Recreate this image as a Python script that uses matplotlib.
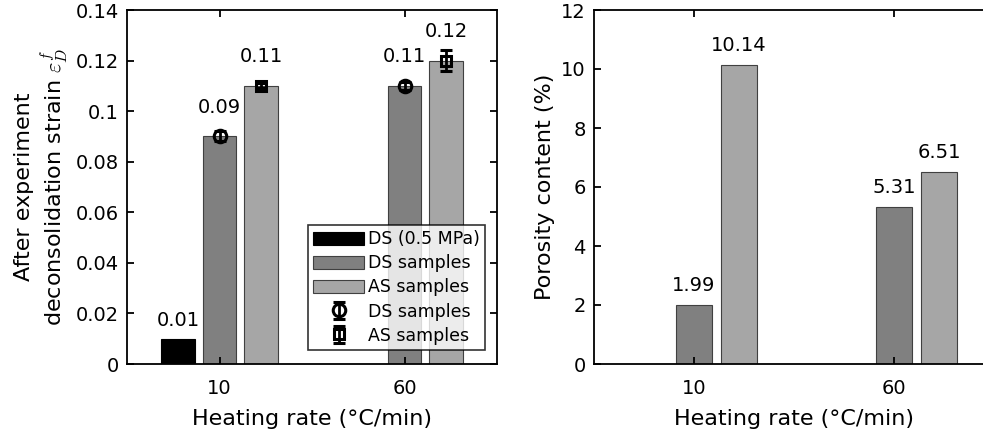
#!/usr/bin/env python3
# -*- coding: utf-8 -*-
"""
Deconsolidation strain and porosity content vs heating rate.
"""
import numpy as np
import matplotlib
matplotlib.use('Agg')
import matplotlib.pyplot as plt

heating_rates = ['10', '60']
# strain after experiment
strain_ds_low = [0.01, np.nan]   # DS (0.5 MPa), only tested at 10 C/min
strain_ds = [0.09, 0.11]
strain_as = [0.11, 0.12]
err_ds = [0.002, 0.0015]
err_as = [0.001, 0.004]
# porosity (%)
porosity_ds = [1.99, 5.31]
porosity_as = [10.14, 6.51]

c_black = '#000000'
c_dark = '#808080'
c_light = '#a6a6a6'
c_edge = '#404040'

plt.rcParams['font.family'] = 'DejaVu Sans'
plt.rcParams['mathtext.fontset'] = 'cm'
plt.rcParams['axes.linewidth'] = 1.3

fig = plt.figure(figsize=(9.83, 4.38), dpi=100)
W, H = 983.0, 438.0
ax1 = fig.add_axes([127/W, (H-364)/H, 370/W, 354/H])
ax2 = fig.add_axes([594/W, (H-364)/H, 400/W, 354/H])

x = np.arange(1, len(heating_rates) + 1)
off = 0.225
bw = 0.18

# ---- left: strain
ax1.bar(x - off, strain_ds_low, bw, color=c_black, edgecolor=c_black, lw=0.8, label='DS (0.5 MPa)')
ax1.bar(x, strain_ds, bw, color=c_dark, edgecolor=c_edge, lw=0.8, label='DS samples')
ax1.bar(x + off, strain_as, bw, color=c_light, edgecolor=c_edge, lw=0.8, label='AS samples')
ax1.errorbar(x, strain_ds, yerr=err_ds, fmt='o', color='k', mfc='none', mec='k',
             ms=9, mew=2.2, elinewidth=2, capsize=4, capthick=2, label='DS samples')
ax1.errorbar(x + off, strain_as, yerr=err_as, fmt='s', color='k', mfc='none', mec='k',
             ms=7.5, mew=2.2, elinewidth=2, capsize=4, capthick=2, label='AS samples')

for xi, v in zip(x - off, strain_ds_low):
    if not np.isnan(v):
        ax1.text(xi, v + 0.0035, f'{v:.2f}', ha='center', va='bottom', fontsize=14)
for xi, v in zip(x, strain_ds):
    ax1.text(xi, v + 0.0078, f'{v:.2f}', ha='center', va='bottom', fontsize=14)
for xi, v in zip(x + off, strain_as):
    ax1.text(xi, v + 0.0078, f'{v:.2f}', ha='center', va='bottom', fontsize=14)

ax1.set_xlim(0.5, 2.5)
ax1.set_ylim(0, 0.14)
ax1.set_yticks(np.arange(0, 0.141, 0.02))
ax1.set_yticklabels(['0', '0.02', '0.04', '0.06', '0.08', '0.1', '0.12', '0.14'])
ax1.set_xticks(x)
ax1.set_xticklabels(heating_rates)
ax1.set_xlabel('Heating rate (°C/min)', fontsize=16, labelpad=8)
ax1.set_ylabel('After experiment\ndeconsolidation strain $\\varepsilon_D^f$', fontsize=16, labelpad=4)
leg = ax1.legend(loc='lower right', bbox_to_anchor=(0.968, 0.04), fontsize=12.5,
                 frameon=True, fancybox=False, edgecolor='k', handlelength=2.9,
                 handleheight=0.8, labelspacing=0.35, borderpad=0.3,
                 handletextpad=0.25, borderaxespad=0)
leg.get_frame().set_linewidth(1.2)

# ---- right: porosity
ax2.bar(x, porosity_ds, bw, color=c_dark, edgecolor=c_edge, lw=0.8)
ax2.bar(x + off, porosity_as, bw, color=c_light, edgecolor=c_edge, lw=0.8)
for xi, v in zip(x, porosity_ds):
    ax2.text(xi, v + 0.35, f'{v:.2f}', ha='center', va='bottom', fontsize=14)
for xi, v in zip(x + off, porosity_as):
    ax2.text(xi, v + 0.35, f'{v:.2f}', ha='center', va='bottom', fontsize=14)

ax2.set_xlim(0.5, 2.5)
ax2.set_ylim(0, 12)
ax2.set_yticks(np.arange(0, 13, 2))
ax2.set_xticks(x)
ax2.set_xticklabels(heating_rates)
ax2.set_xlabel('Heating rate (°C/min)', fontsize=16, labelpad=8)
ax2.set_ylabel('Porosity content (%)', fontsize=16, labelpad=4)

for ax in (ax1, ax2):
    ax.tick_params(direction='in', top=True, right=True, labelsize=14,
                   length=5, width=1.3)
    ax.tick_params(axis='x', pad=11)
    ax.tick_params(axis='y', pad=6)

fig.savefig('out.png', dpi=100)
